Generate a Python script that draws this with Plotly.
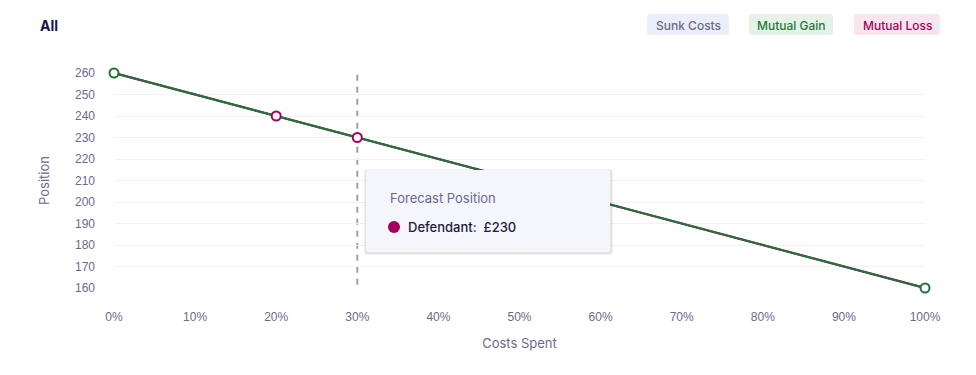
import plotly.graph_objects as go

# Data
costs_all = [0, 20, 30, 100]
position_all = [260, 240, 230, 160]
gain_costs = [0, 100]
gain_position = [260, 160]
loss_costs = [20, 30]
loss_position = [240, 230]
x_ticks = [0, 10, 20, 30, 40, 50, 60, 70, 80, 90, 100]
x_tick_labels = [f"{v}%" for v in x_ticks]
y_ticks = [160, 170, 180, 190, 200, 210, 220, 230, 240, 250, 260]
hover_cost = 30
hover_value = 230
legend_labels = ["Sunk Costs", "Mutual Gain", "Mutual Loss"]

GREEN = "#1f7437"
MAGENTA = "#a6005c"
TICK = "#6b6a8a"

fig = go.Figure()
fig.add_trace(go.Scatter(x=costs_all, y=position_all, mode="lines",
                         line=dict(color=MAGENTA, width=2.2), hoverinfo="skip", cliponaxis=False))
fig.add_trace(go.Scatter(x=gain_costs, y=gain_position, mode="lines+markers",
                         line=dict(color=GREEN, width=2),
                         marker=dict(size=9, color="white", line=dict(color=GREEN, width=2)),
                         cliponaxis=False))
fig.add_trace(go.Scatter(x=loss_costs, y=loss_position, mode="markers",
                         marker=dict(size=9, color="white", line=dict(color=MAGENTA, width=2)),
                         cliponaxis=False))

# page body has an 8px margin; work in screen pixels and offset
OFF = 8
W, H = 976 - OFF, 375 - OFF
L, T = 114 - OFF, 73 - OFF
R = W - (925 - OFF)
B = H - (288 - OFF)
pw = W - L - R
ph = H - T - B

def px(x):
    return (x - OFF - L) / pw

def py(y):
    return (H - B - (y - OFF)) / ph

def rounded_rect(x0, x1, y0, y1, r):
    # screen pixel coords -> paper path with rounded corners
    ax0, ax1 = px(x0), px(x1)
    ay0, ay1 = py(y0), py(y1)  # y0 top (screen), y1 bottom
    rx, ry = r / pw, r / ph
    return (f"M{ax0 + rx},{ay0} L{ax1 - rx},{ay0} Q{ax1},{ay0} {ax1},{ay0 - ry} "
            f"L{ax1},{ay1 + ry} Q{ax1},{ay1} {ax1 - rx},{ay1} "
            f"L{ax0 + rx},{ay1} Q{ax0},{ay1} {ax0},{ay1 + ry} "
            f"L{ax0},{ay0 - ry} Q{ax0},{ay0} {ax0 + rx},{ay0} Z")

shapes = []
annotations = []

# dashed hover line
shapes.append(dict(type="line", xref="x", yref="y", x0=hover_cost, x1=hover_cost,
                   y0=161.5, y1=260, line=dict(color="#a0a0a0", width=2, dash="6px,6px"), layer="below"))

# tooltip shadow and box
shapes.append(dict(type="path", xref="paper", yref="paper", path=rounded_rect(364, 613, 169, 255, 3),
                   fillcolor="rgba(0,0,0,0.05)", line=dict(width=0)))
shapes.append(dict(type="path", xref="paper", yref="paper", path=rounded_rect(365, 612, 170, 254, 3),
                   fillcolor="rgba(0,0,0,0.06)", line=dict(width=0)))
shapes.append(dict(type="path", xref="paper", yref="paper", path=rounded_rect(366, 610, 170, 252, 2),
                   fillcolor="#f5f6fb", line=dict(width=0)))
shapes.append(dict(type="circle", xref="paper", yref="paper", xsizemode="pixel", ysizemode="pixel",
                   xanchor=px(394), yanchor=py(227), x0=-6, x1=6, y0=-6, y1=6,
                   fillcolor=MAGENTA, line=dict(width=0)))
annotations.append(dict(xref="paper", yref="paper", x=px(388), y=py(198), xanchor="left", yanchor="middle",
                        text="Forecast Position", showarrow=False,
                        font=dict(family="Inter", size=13, color="#6b6a8a")))
annotations.append(dict(xref="paper", yref="paper", x=px(406), y=py(227), xanchor="left", yanchor="middle",
                        text=f"Defendant:  £{hover_value}", showarrow=False,
                        font=dict(family="Inter", size=13, color="#1e1a3d", weight=500)))

# title
annotations.append(dict(xref="paper", yref="paper", x=px(38), y=py(25), xanchor="left", yanchor="middle",
                        text="<b>All</b>", showarrow=False,
                        font=dict(family="Inter", size=14, color="#1a1446")))

# legend chips
chips = [
    (647, 729, "#ecedfa", "#6b6a8a"),
    (749, 833, "#e6f1e8", "#1f7a37"),
    (854, 940, "#f8e6ef", "#a6005c"),
]
for (x0, x1, bg, fg), label in zip(chips, legend_labels):
    shapes.append(dict(type="path", xref="paper", yref="paper", path=rounded_rect(x0, x1, 14, 35, 3),
                       fillcolor=bg, line=dict(width=0)))
    annotations.append(dict(xref="paper", yref="paper", x=px((x0 + x1) / 2), y=py(25), xanchor="center",
                            yanchor="middle", text=label, showarrow=False,
                            font=dict(family="Inter", size=12, color=fg, weight=500)))

fig.update_layout(
    width=W, height=H, margin=dict(l=L, r=R, t=T, b=B),
    paper_bgcolor="white", plot_bgcolor="white", showlegend=False,
    shapes=shapes, annotations=annotations,
    font=dict(family="Liberation Sans", size=12, color=TICK),
)
fig.update_xaxes(range=[0, 100], tickvals=x_ticks, ticktext=x_tick_labels, showgrid=False, zeroline=False,
                 showline=False, ticks="", ticklabelstandoff=20,
                 title=dict(text="Costs Spent", standoff=15, font=dict(family="Inter", size=13, color=TICK)),
                 tickfont=dict(family="Liberation Sans", size=12, color=TICK))
fig.update_yaxes(range=[160, 260], tickvals=y_ticks, showgrid=True, gridcolor="#f1f1f6", gridwidth=1,
                 zeroline=False, showline=False, ticks="", ticklabelstandoff=18,
                 title=dict(text="Position", standoff=22, font=dict(family="Inter", size=13, color=TICK)),
                 tickfont=dict(family="Liberation Sans", size=12, color=TICK))

fig.write_html("out.html")
